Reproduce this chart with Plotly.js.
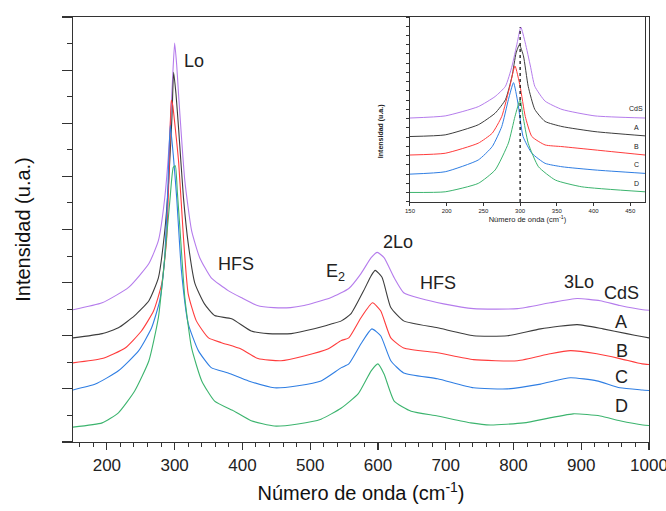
<!DOCTYPE html>
<html>
<head>
<meta charset="utf-8">
<script src="https://cdn.plot.ly/plotly-3.0.1.min.js"></script>
<style>html,body{margin:0;padding:0;background:#fff;}#chart{width:666px;height:511px;}</style>
</head>
<body>
<div id="chart"></div>
<script>
// ---- Main spectra (Raman shift, cm^-1 ; offset intensity, a.u.) ----
var xCdS = [150,193,232,262,276,285,293,297,300,303,306,315,325,337,354,379,398,422,446,471,491,506,531,557,575,590,599,609,624,638,663,697,741,806,854,894,928,957,991,1000];
var yCdS = [2.49,2.62,2.91,3.36,3.79,4.55,5.81,6.85,7.51,7.10,6.50,4.92,3.98,3.47,3.09,2.85,2.72,2.57,2.53,2.53,2.57,2.62,2.72,2.89,3.17,3.47,3.57,3.47,3.09,2.81,2.70,2.60,2.51,2.51,2.62,2.70,2.66,2.57,2.49,2.48];

var xA = [150,193,217,241,262,276,285,291,296,298.5,302,306,313,320,330,344,359,384,413,438,472,506,531,546,560,579,590,596,606,619,638,688,741,791,840,894,932,967,991,1000];
var yA = [1.96,2.04,2.15,2.38,2.66,3.09,3.92,4.87,6.11,6.96,6.55,5.87,4.60,3.74,2.98,2.60,2.38,2.32,2.09,2.04,2.04,2.13,2.22,2.28,2.41,2.85,3.13,3.23,3.10,2.53,2.28,2.15,2.00,2.00,2.13,2.21,2.13,2.04,1.98,1.96];

var xB = [150,193,227,251,269,281,288,292,295,297,301,306,313,320,332,350,369,398,423,457,491,526,546,557,575,592,604,619,638,688,741,806,854,884,923,957,990,1000];
var yB = [1.49,1.57,1.77,2.09,2.47,2.98,3.79,5.17,6.43,6.35,5.90,5.25,3.85,2.79,2.28,1.96,1.87,1.75,1.57,1.53,1.62,1.75,1.91,1.96,2.34,2.62,2.47,1.96,1.77,1.68,1.55,1.53,1.66,1.72,1.66,1.57,1.47,1.46];

var xC = [150,183,217,247,266,278,285,290,293.5,298,303,310,320,335,354,379,409,447,482,516,546,557,575,591,604,619,638,688,741,791,840,884,923,957,990,1000];
var yC = [0.98,1.09,1.34,1.72,2.15,2.66,3.42,4.79,5.96,5.40,4.60,3.23,2.23,1.72,1.40,1.30,1.15,1.02,1.06,1.15,1.40,1.47,1.85,2.13,2.00,1.53,1.30,1.19,1.02,1.00,1.09,1.21,1.15,1.02,0.98,0.97];

var xD = [150,193,217,241,262,276,285,293,298,301,304,308,315,325,340,359,388,413,447,482,516,546,571,590,600,609,624,649,688,737,766,815,888,928,957,991,1000];
var yD = [0.28,0.36,0.55,0.96,1.53,2.34,3.42,4.55,5.17,5.20,4.70,3.98,2.72,1.77,1.15,0.77,0.58,0.40,0.30,0.34,0.43,0.64,0.91,1.34,1.47,1.28,0.77,0.58,0.49,0.36,0.32,0.36,0.53,0.49,0.40,0.32,0.31];

// ---- Inset spectra (150-470 cm^-1) ----
var xiCdS = [150,198,243,266,280,289,296,301,307,314,320,334,357,402,470];
var yiCdS = [9.07,9.30,10.3,11.4,12.5,14.7,17.2,18.9,17.2,14.7,12.5,10.9,10.0,9.30,9.07];
var xiA = [150,198,243,266,280,289,294.5,299,304.5,311,320,334,357,402,470];
var yiA = [7.07,7.25,8.34,9.60,11.05,13.6,16.1,17.0,15.8,12.5,10.0,8.70,8.15,7.60,7.14];
var xiB = [150,198,243,262,275,286,293,300,307,316,334,357,402,470];
var yiB = [5.07,5.26,6.35,7.43,9.24,12.5,14.7,12.5,9.24,7.07,6.16,5.98,5.62,5.07];
var xiC = [150,198,243,262,275,284,291,297,304,316,334,357,402,470];
var yiC = [3.00,3.26,4.53,5.98,8.15,11.05,12.9,10.7,7.07,5.26,4.17,3.80,3.45,3.08];
var xiD = [150,198,243,266,284,293,300,304,311,325,348,384,470];
var yiD = [1.02,1.09,2.00,3.45,6.35,9.24,11.05,9.24,6.35,3.80,2.36,1.63,1.09];

var sampleNames = ['CdS','A','B','C','D'];
var colors = ['#b57cec','#3d3d3d','#ff3c3c','#2f7ee3','#3cb46e'];

// label positions (data coords)
var mainLabelX = [960,959,960,960,960];
var mainLabelY = [2.81,2.26,1.72,1.23,0.68];
var insetLabelX = [458,458,458,458,458];
var insetLabelY = [10.1,8.0,5.95,4.0,2.03];

var peakText = ['Lo','HFS','E<sub>2</sub>','2Lo','HFS','3Lo'];
var peakX = [329,390,537,629,688,897];
var peakY = [7.17,3.36,3.19,3.77,3.0,3.02];

var mainX = [xCdS,xA,xB,xC,xD], mainY = [yCdS,yA,yB,yC,yD];
var insX = [xiCdS,xiA,xiB,xiC,xiD], insY = [yiCdS,yiA,yiB,yiC,yiD];

var FONT = 'Arial, "Liberation Sans", sans-serif';
var traces = [];
for (var i = 0; i < 5; i++) {
  traces.push({x: mainX[i], y: mainY[i], type: 'scatter', mode: 'lines', name: sampleNames[i],
    line: {color: colors[i], width: 1.1, shape: 'spline', smoothing: 0.5}, xaxis: 'x', yaxis: 'y'});
}
for (var j = 0; j < 5; j++) {
  traces.push({x: insX[j], y: insY[j], type: 'scatter', mode: 'lines', name: sampleNames[j] + ' (inset)',
    line: {color: colors[j], width: 1.0, shape: 'spline', smoothing: 0.5}, xaxis: 'x2', yaxis: 'y2'});
}

var annotations = [];
for (var k = 0; k < peakText.length; k++) {
  annotations.push({x: peakX[k], y: peakY[k], xref: 'x', yref: 'y', text: peakText[k], showarrow: false,
    font: {family: FONT, size: 18, color: '#222'}});
}
for (var m = 0; m < 5; m++) {
  annotations.push({x: mainLabelX[m], y: mainLabelY[m], xref: 'x', yref: 'y', text: sampleNames[m], showarrow: false,
    font: {family: FONT, size: 18, color: '#222'}});
  annotations.push({x: insetLabelX[m], y: insetLabelY[m], xref: 'x2', yref: 'y2', text: sampleNames[m], showarrow: false,
    font: {family: FONT, size: 7, color: '#222'}});
}
annotations.push({x: 0.535, y: 0.80, xref: 'paper', yref: 'paper', text: '<b>Intensidad (u.a.)</b>', textangle: -90,
  showarrow: false, font: {family: FONT, size: 7, color: '#222'}});

var layout = {
  width: 666, height: 511,
  margin: {l: 73, r: 17, t: 17, b: 69},
  paper_bgcolor: '#fff', plot_bgcolor: '#fff',
  showlegend: false,
  font: {family: FONT, color: '#222'},
  xaxis: {
    domain: [0, 1], anchor: 'y', range: [150, 1000], tick0: 0, dtick: 100,
    ticks: 'outside', ticklen: 7, tickwidth: 1.2, tickcolor: '#333',
    minor: {dtick: 20, tick0: 0, ticks: 'outside', ticklen: 4, tickcolor: '#333', tickwidth: 1},
    showline: true, mirror: true, linecolor: '#333', linewidth: 1.3,
    showgrid: false, zeroline: false, automargin: false,
    ticklabeloverflow: 'allow',
    tickfont: {family: FONT, size: 17, color: '#222'},
    title: {text: 'Número de onda (cm<sup>-1</sup>)', font: {family: FONT, size: 20, color: '#111'}, standoff: 12}
  },
  yaxis: {
    domain: [0, 1], anchor: 'x', range: [0, 8], tick0: 0, dtick: 1,
    ticks: 'outside', ticklen: 10, tickwidth: 1.2, tickcolor: '#333',
    minor: {dtick: 0.5, tick0: 0, ticks: 'outside', ticklen: 5, tickcolor: '#333', tickwidth: 1},
    showticklabels: false,
    showline: true, mirror: true, linecolor: '#333', linewidth: 1.3,
    showgrid: false, zeroline: false, automargin: false,
    title: {text: 'Intensidad (u.a.)', font: {family: FONT, size: 20, color: '#111'}, standoff: 25}
  },
  xaxis2: {
    domain: [0.585, 0.993], anchor: 'y2', range: [150, 470], tick0: 150, dtick: 50,
    ticks: 'outside', ticklen: 3, tickwidth: 1, tickcolor: '#333',
    showline: true, mirror: true, linecolor: '#333', linewidth: 1.1,
    showgrid: false, zeroline: false, automargin: false,
    tickfont: {family: FONT, size: 6, color: '#222'},
    title: {text: 'Número de onda (cm<sup>-1</sup>)', font: {family: FONT, size: 7.5, color: '#222'}, standoff: 3}
  },
  yaxis2: {
    domain: [0.565, 1.0], anchor: 'x2', range: [0, 20], tick0: 0, dtick: 1,
    ticks: 'outside', ticklen: 3, tickwidth: 1, tickcolor: '#333',
    showticklabels: false,
    showline: true, mirror: true, linecolor: '#333', linewidth: 1.1,
    showgrid: false, zeroline: false, automargin: false
  },
  shapes: [{type: 'line', xref: 'x2', yref: 'y2', x0: 300, x1: 300, y0: 0, y1: 18.9,
    line: {color: '#000', width: 1.2, dash: 'dot'}}],
  annotations: annotations
};

Plotly.newPlot('chart', traces, layout, {displayModeBar: false, staticPlot: true});
</script>
</body>
</html>
